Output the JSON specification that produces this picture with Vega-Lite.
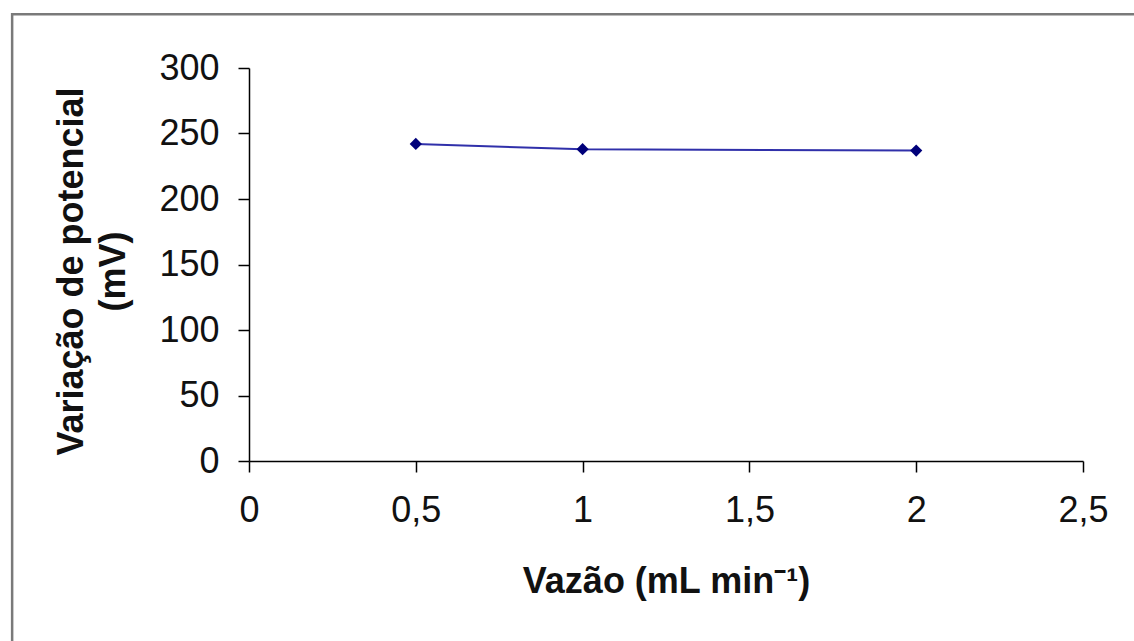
{
  "$schema": "https://vega.github.io/schema/vega-lite/v6.json",
  "autosize": {"type": "none"},
  "width": 834,
  "height": 393,
  "padding": {"left": 249, "top": 68, "right": 51, "bottom": 180},
  "background": "white",
  "config": {
    "view": {"stroke": null},
    "font": "Liberation Sans",
    "axis": {
      "grid": false,
      "domainColor": "#000000",
      "domainWidth": 1.5,
      "tickColor": "#000000",
      "tickWidth": 1.5,
      "tickSize": 11,
      "labelFont": "Liberation Sans",
      "labelFontSize": 36,
      "labelColor": "#111111",
      "titleFont": "Liberation Sans",
      "titleFontSize": 36,
      "titleFontWeight": "bold",
      "titleColor": "#111111"
    }
  },
  "data": {
    "values": [
      {"vazao": 0.5, "potencial": 242},
      {"vazao": 1.0, "potencial": 238},
      {"vazao": 2.0, "potencial": 237}
    ]
  },
  "layer": [
    {
      "data": {"values": [{"frame": "outer"}]},
      "mark": {"type": "rect", "fill": null, "stroke": "#7a7a7a", "strokeWidth": 2.5, "clip": false},
      "encoding": {
        "x": {"datum": -0.71, "type": "quantitative"},
        "x2": {"datum": 2.75},
        "y": {"datum": 341, "type": "quantitative"},
        "y2": {"datum": -160}
      }
    },
    {
      "mark": {"type": "line", "color": "#3030aa", "strokeWidth": 2},
      "encoding": {
        "x": {
          "field": "vazao", "type": "quantitative",
          "scale": {"domain": [0, 2.5], "nice": false, "zero": true},
          "axis": {
            "values": [0, 0.5, 1, 1.5, 2, 2.5],
            "labelExpr": "replace(format(datum.value, '.1~f'), '.', ',')",
            "labelPadding": 21,
            "labelFlush": false,
            "title": "Vazão (mL min⁻¹)",
            "titlePadding": 36
          }
        },
        "y": {
          "field": "potencial", "type": "quantitative",
          "scale": {"domain": [0, 300], "nice": false},
          "axis": {
            "values": [0, 50, 100, 150, 200, 250, 300],
            "labelPadding": 19,
            "labelFlush": false,
            "title": ["Variação de potencial", "(mV)"],
            "titlePadding": 26,
            "titleLineHeight": 42,
            "titleY": 203
          }
        }
      }
    },
    {
      "mark": {"type": "point", "shape": "diamond", "filled": true, "color": "#00007a", "size": 150, "opacity": 1},
      "encoding": {
        "x": {"field": "vazao", "type": "quantitative"},
        "y": {"field": "potencial", "type": "quantitative"}
      }
    }
  ]
}
